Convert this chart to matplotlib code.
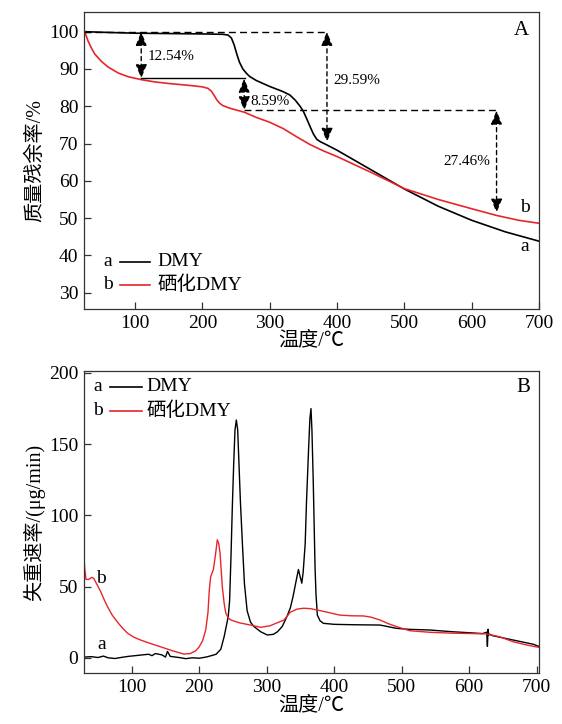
import matplotlib
matplotlib.use("Agg")
import matplotlib.pyplot as plt
from matplotlib.lines import Line2D

FAM = ['Liberation Serif', 'Noto Sans CJK SC', 'DejaVu Sans']
plt.rcParams['font.family'] = FAM
plt.rcParams['axes.unicode_minus'] = False

# ---------------- Panel A: TG curves ----------------
tg_a_T = [25, 60, 100, 150, 200, 230, 238, 243, 247, 251, 255, 260, 265, 270, 280, 290, 300, 310, 320, 330,
          338, 345, 350, 355, 360, 365, 370, 375, 385, 400, 450, 500, 550, 600, 650, 700]
tg_a_v = [100, 99.8, 99.6, 99.5, 99.4, 99.3, 99.1, 98.3, 96.5, 94.0, 91.8, 90.0, 88.9, 88.0, 86.9, 86.1, 85.3,
          84.6, 83.9, 83.0, 81.6, 80.0, 78.6, 76.6, 74.5, 72.5, 71.1, 70.5, 69.6, 68.2, 63.0, 57.8, 53.2,
          49.4, 46.3, 43.8]
tg_b_T = [25, 27, 30, 35, 40, 50, 60, 75, 90, 110, 130, 150, 180, 200, 208, 213, 217, 221, 225, 230, 240,
          262, 280, 300, 320, 340, 360, 380, 400, 450, 500, 550, 600, 637, 670, 700]
tg_b_v = [100, 99.0, 97.5, 95.6, 94.0, 92.0, 90.5, 88.9, 87.9, 87.1, 86.5, 86.1, 85.6, 85.2, 84.8, 84.1, 83.0,
          81.8, 80.9, 80.2, 79.5, 78.4, 77.0, 75.7, 74.0, 71.8, 69.7, 68.0, 66.5, 62.3, 57.9, 55.0, 52.5,
          50.7, 49.4, 48.6]

# annotations: x of arrow, start value, loss %
loss_x = [109, 262, 385, 637]
loss_top = [100.0, 87.46, 100.0, 78.87]
loss_pct = [12.54, 8.59, 29.59, 27.46]

# ---------------- Panel B: DTG curves ----------------
dtg_a_T = [29.3, 40, 50, 58, 65, 75, 85, 95, 105, 115, 125, 130, 135, 145, 150, 153, 157, 170, 180, 190,
           200, 210, 218, 225, 232, 237, 240, 243, 245, 247, 249, 251, 253, 255, 257, 259, 261, 264, 267,
           271, 276, 281, 291, 301, 310, 316, 323, 330, 335, 339, 344, 347, 349.5, 352, 354, 357, 359, 362,
           364, 365.6, 367, 369, 371.6, 373, 375, 379, 384, 400, 430, 468, 492, 510, 542, 575, 600, 620,
           626, 627, 628, 629, 630, 635, 655, 675, 695, 703.4]
dtg_a_v = [0.5, 0.8, 0.2, 1.2, 0.0, -0.5, 0.3, 1.0, 1.5, 2.0, 2.5, 1.5, 3.0, 2.0, 0.5, 4.5, 1.0, 0.2, -0.6,
           0.0, -0.3, 0.5, 1.5, 2.5, 6.0, 15.0, 22.0, 29.0, 40.0, 70.0, 105.0, 135.0, 160.0, 167.0, 160.0,
           135.0, 110.0, 80.0, 52.0, 33.0, 25.0, 22.0, 18.3, 16.0, 16.5, 18.3, 22.0, 29.0, 35.0, 43.0, 55.0,
           62.0, 57.0, 52.4, 60.0, 80.0, 110.0, 146.0, 168.0, 175.0, 160.0, 123.0, 64.0, 45.0, 30.0, 26.0,
           24.2, 23.5, 23.2, 23.0, 20.7, 20.0, 19.5, 18.3, 17.6, 17.0, 18.0, 8.0, 20.0, 16.0, 16.5, 15.5,
           13.5, 11.5, 9.5, 8.0]
dtg_b_T = [29.3, 30.5, 32.3, 36, 41, 44, 49, 54, 59, 64, 71, 79, 86, 93.5, 103, 113, 128, 143, 160, 177.5,
           187, 195, 200, 205, 209.6, 213, 215, 217, 221, 224, 226.8, 229, 230.8, 232.5, 234.2, 237, 239.3,
           243, 247, 260, 276, 291, 305, 315, 325.6, 335, 345, 355, 365, 375, 390, 408, 425, 443, 455, 468,
           480, 493, 512, 542, 575, 605, 625, 645, 665, 685, 703.4]
dtg_b_v = [70.0, 62.0, 55.0, 55.0, 56.5, 55.5, 51.0, 46.5, 41.0, 36.0, 30.0, 25.0, 21.0, 17.4, 14.5, 12.5,
           10.0, 7.7, 5.0, 2.6, 3.0, 5.0, 7.7, 12.0, 19.5, 32.0, 48.0, 57.0, 62.0, 72.0, 82.9, 80.0, 73.7,
           62.0, 50.0, 38.0, 31.5, 28.0, 26.5, 24.5, 23.0, 21.4, 22.5, 24.5, 26.5, 32.0, 34.2, 34.8, 34.5,
           33.5, 32.0, 30.0, 29.5, 29.4, 28.5, 26.5, 24.0, 21.8, 19.0, 17.9, 17.3, 17.0, 16.8, 14.8, 11.3,
           9.0, 7.3]

RED = '#e8252b'
fig = plt.figure(figsize=(5.62, 7.24), dpi=100)
axA = fig.add_axes([0.1495, 0.5732, 0.8095, 0.4098])
axB = fig.add_axes([0.1495, 0.0698, 0.8095, 0.4182])

for ax in (axA, axB):
    for s in ax.spines.values():
        s.set_linewidth(0.9)
        s.set_color('#333333')
    ax.tick_params(direction='in', length=5, width=0.9, labelsize=14, top=False, right=False, pad=4,
                   color='#333333')
    ax.set_xticks([100, 200, 300, 400, 500, 600, 700])

# Panel A
axA.set_xlim(24, 700)
axA.plot(tg_a_T, tg_a_v, color='black', lw=1.2)
axA.plot(tg_b_T, tg_b_v, color=RED, lw=1.2)
axA.set_ylim(25.6, 105.2)
axA.set_yticks([30, 40, 50, 60, 70, 80, 90, 100])
axA.set_xlabel('温度/℃', fontsize=14.5, labelpad=0)
axA.set_ylabel('质量残余率/%', fontsize=14.5, labelpad=3)

# guide lines
axA.plot([24, loss_x[2]], [loss_top[0], loss_top[0]], color='black', lw=1, ls=(0, (5, 3)))
axA.plot([loss_x[0], loss_x[1] + 1], [loss_top[1], loss_top[1]], color='black', lw=1)
axA.plot([loss_x[1], loss_x[3]], [loss_top[3], loss_top[3]], color='black', lw=1, ls=(0, (5, 3)))

for x, top, p in zip(loss_x, loss_top, loss_pct):
    axA.annotate('', xy=(x, top - p), xytext=(x, top),
                 arrowprops=dict(arrowstyle='<|-|>,head_length=0.7,head_width=0.28', color='black',
                                 lw=1, ls=(0, (3, 2.5)), shrinkA=0, shrinkB=0, mutation_scale=12))

fs_ann = 11
axA.text(119, 93.3, '12.54%', fontsize=fs_ann, va='center', ha='left')
axA.text(271, 81.2, '8.59%', fontsize=fs_ann, va='center', ha='left')
axA.text(394, 86.8, '29.59%', fontsize=fs_ann, va='center', ha='left')
axA.text(628, 65.1, '27.46%', fontsize=fs_ann, va='center', ha='right')
axA.text(679, 52.7, 'b', fontsize=14, va='center', ha='center')
axA.text(679, 42.4, 'a', fontsize=14, va='center', ha='center')
axA.text(0.962, 0.94, 'A', fontsize=15, va='center', ha='center', transform=axA.transAxes)

# legend A
for yy, lab, col, key in [(0.159, 'DMY', 'black', 'a'), (0.081, '硒化DMY', RED, 'b')]:
    axA.text(0.053, yy, key, fontsize=14, va='center', ha='center', transform=axA.transAxes)
    axA.add_line(Line2D([0.079, 0.145], [yy, yy], color=col, lw=1.2, transform=axA.transAxes))
    axA.text(0.161, yy, lab, fontsize=14, va='center', ha='left', transform=axA.transAxes)

# Panel B
axB.set_xlim(29.3, 703.4)
axB.plot(dtg_a_T, dtg_a_v, color='black', lw=1.0)
axB.plot(dtg_b_T, dtg_b_v, color=RED, lw=1.0)
axB.set_ylim(-11, 201.6)
axB.set_yticks([0, 50, 100, 150, 200])
axB.set_xlabel('温度/℃', fontsize=14.5, labelpad=0)
axB.set_ylabel('失重速率/(μg/min)', fontsize=14.5, labelpad=3)
axB.text(55, 56, 'b', fontsize=14, va='center', ha='center')
axB.text(55, 9, 'a', fontsize=14, va='center', ha='center')
axB.text(0.965, 0.943, 'B', fontsize=15, va='center', ha='center', transform=axB.transAxes)

for yy, lab, col, key in [(0.947, 'DMY', 'black', 'a'), (0.868, '硒化DMY', RED, 'b')]:
    axB.text(0.031, yy, key, fontsize=14, va='center', ha='center', transform=axB.transAxes)
    axB.add_line(Line2D([0.057, 0.127], [yy, yy], color=col, lw=1.2, transform=axB.transAxes))
    axB.text(0.138, yy, lab, fontsize=14, va='center', ha='left', transform=axB.transAxes)

fig.savefig('out.png', dpi=100)
